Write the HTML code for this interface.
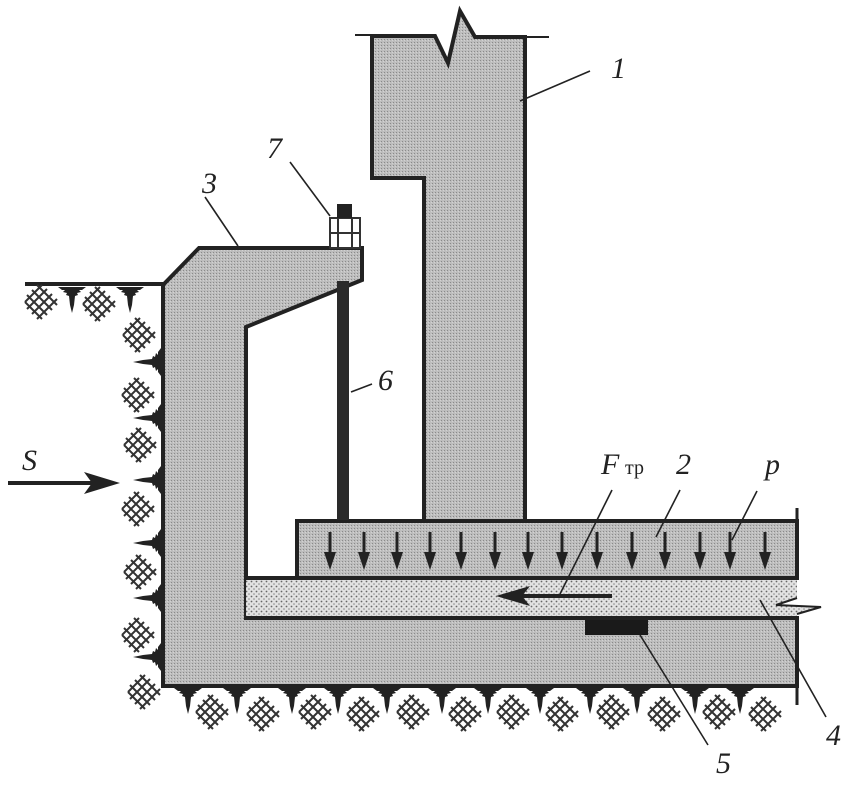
<!DOCTYPE html>
<html><head><meta charset="utf-8"><style>html,body{margin:0;padding:0;background:#fff}svg{display:block}</style></head>
<body>
<svg width="862" height="788" viewBox="0 0 862 788" xmlns="http://www.w3.org/2000/svg">
<defs>
<pattern id="g" width="3" height="3" patternUnits="userSpaceOnUse">
<rect width="3" height="3" fill="#bdbdbd"/><rect width="1" height="1" fill="#8a8a8a"/><rect x="2" y="1" width="1" height="1" fill="#d2d2d2"/>
</pattern>
<pattern id="d" width="5" height="5" patternUnits="userSpaceOnUse">
<rect width="5" height="5" fill="#e2e2e2"/><circle cx="1.5" cy="1.5" r="0.9" fill="#666"/><circle cx="4" cy="4" r="0.8" fill="#888"/>
</pattern>
<g id="h" stroke="#333" stroke-width="2" fill="none">
<path d="M-15,-7 L5,13 M-10,-12 L10,8 M-5,-17 L15,3 M-17,0 L0,17"/>
<path d="M-15,7 L5,-13 M-10,12 L10,-8 M-5,17 L15,-3 M-17,0 L0,-17"/>
</g>
<g id="sd" fill="#222">
<path d="M-14,0 L14,0 L10,3 L7,3 L9,5 L5,6 L6,8 L3,9 L2,18 L0,26 L-2,18 L-3,9 L-6,8 L-5,6 L-9,5 L-7,3 L-10,3 Z"/>
</g>
<g id="sl" fill="#222">
<path d="M0,-14 L0,14 L-3,10 L-3,7 L-5,9 L-6,5 L-8,6 L-9,3 L-18,2 L-28,0 L-18,-2 L-9,-3 L-8,-6 L-6,-5 L-5,-9 L-3,-7 L-3,-10 Z"/>
</g>
</defs>

<line x1="25" y1="284" x2="165" y2="284" stroke="#222" stroke-width="4"/>

<use href="#h" x="42" y="302"/>
<use href="#sd" x="72" y="287"/>
<use href="#h" x="100" y="304"/>
<use href="#sd" x="130" y="287"/>
<use href="#h" x="140" y="335"/>
<use href="#sl" x="161" y="362"/>
<use href="#h" x="139" y="395"/>
<use href="#sl" x="161" y="418"/>
<use href="#h" x="141" y="445"/>
<use href="#sl" x="161" y="480"/>
<use href="#h" x="139" y="509"/>
<use href="#sl" x="161" y="543"/>
<use href="#h" x="141" y="572"/>
<use href="#sl" x="161" y="598"/>
<use href="#h" x="139" y="635"/>
<use href="#sl" x="161" y="657"/>
<use href="#h" x="145" y="692"/>
<use href="#sd" x="188" y="688"/><use href="#h" x="213" y="712"/>
<use href="#sd" x="237" y="688"/><use href="#h" x="264" y="714"/>
<use href="#sd" x="292" y="688"/><use href="#h" x="316" y="712"/>
<use href="#sd" x="338" y="688"/><use href="#h" x="364" y="714"/>
<use href="#sd" x="387" y="688"/><use href="#h" x="414" y="712"/>
<use href="#sd" x="442" y="688"/><use href="#h" x="466" y="714"/>
<use href="#sd" x="488" y="688"/><use href="#h" x="514" y="712"/>
<use href="#sd" x="540" y="688"/><use href="#h" x="563" y="714"/>
<use href="#sd" x="590" y="688"/><use href="#h" x="614" y="712"/>
<use href="#sd" x="637" y="688"/><use href="#h" x="665" y="714"/>
<use href="#sd" x="695" y="688"/><use href="#h" x="720" y="712"/>
<use href="#sd" x="740" y="688"/><use href="#h" x="766" y="714"/>

<path d="M163,285 L199,248 L362,248 L362,280 L246,327 L246,618 L797,618 L797,686 L163,686 Z" fill="url(#g)" stroke="#222" stroke-width="4"/>
<line x1="797" y1="618" x2="797" y2="705" stroke="#222" stroke-width="3"/>

<path d="M246,578 L797,578 L797,598 L776,605 L821,607 L797,614 L797,618 L246,618 Z" fill="url(#d)"/>
<line x1="246" y1="578" x2="797" y2="578" stroke="#222" stroke-width="4"/>
<line x1="246" y1="618" x2="797" y2="618" stroke="#222" stroke-width="4"/>
<path d="M797,598 L776,605 L821,607 L797,614" fill="none" stroke="#222" stroke-width="2"/>

<rect x="585" y="620" width="63" height="15" fill="#1a1a1a"/>

<rect x="297" y="521" width="500" height="57" fill="url(#g)" stroke="#222" stroke-width="4"/>
<line x1="797" y1="508" x2="797" y2="580" stroke="#222" stroke-width="3"/>
<g stroke="#222" stroke-width="3" fill="#222">
<g id="ar"><line x1="330" y1="532" x2="330" y2="558"/><path d="M324,552 L336,552 L330,570 Z" stroke="none"/></g>
<use href="#ar" x="34"/><use href="#ar" x="67"/><use href="#ar" x="100"/><use href="#ar" x="131"/>
<use href="#ar" x="165"/><use href="#ar" x="198"/><use href="#ar" x="232"/><use href="#ar" x="267"/>
<use href="#ar" x="302"/><use href="#ar" x="335"/><use href="#ar" x="370"/><use href="#ar" x="400"/><use href="#ar" x="435"/>
</g>

<path d="M372,36 L435,36 L448,63 L460,11 L475,37 L525,37 L525,521 L424,521 L424,178 L372,178 Z" fill="url(#g)" stroke="#222" stroke-width="4"/>
<line x1="355" y1="35" x2="372" y2="35" stroke="#222" stroke-width="2"/>
<line x1="525" y1="37" x2="549" y2="37" stroke="#222" stroke-width="2"/>

<rect x="337" y="281" width="12" height="239" fill="#2a2a2a"/>
<rect x="330" y="218" width="30" height="30" fill="#fff" stroke="#333" stroke-width="2"/>
<line x1="338" y1="218" x2="338" y2="248" stroke="#333" stroke-width="2"/>
<line x1="352" y1="218" x2="352" y2="248" stroke="#333" stroke-width="2"/>
<line x1="330" y1="233" x2="360" y2="233" stroke="#333" stroke-width="2"/>
<rect x="337" y="204" width="15" height="14" fill="#222"/>

<line x1="8" y1="483" x2="104" y2="483" stroke="#222" stroke-width="4"/>
<path d="M84,472 L120,483 L84,494 L92,483 Z" fill="#222"/>
<line x1="520" y1="596" x2="612" y2="596" stroke="#222" stroke-width="4"/>
<path d="M530,586 L496,596 L530,606 L522,596 Z" fill="#222"/>

<g stroke="#222" stroke-width="1.6" fill="none">
<line x1="520" y1="101" x2="590" y2="71"/>
<line x1="205" y1="197" x2="238" y2="246"/>
<line x1="290" y1="162" x2="330" y2="216"/>
<line x1="351" y1="392" x2="372" y2="384"/>
<line x1="612" y1="490" x2="560" y2="594"/>
<line x1="680" y1="490" x2="656" y2="537"/>
<line x1="757" y1="491" x2="732" y2="540"/>
<line x1="760" y1="600" x2="826" y2="717"/>
<line x1="640" y1="635" x2="708" y2="745"/>
</g>

<g font-family="'Liberation Serif', serif" font-style="italic" font-size="30" fill="#222">
<text x="611" y="78">1</text>
<text x="202" y="193">3</text>
<text x="267" y="158">7</text>
<text x="378" y="390">6</text>
<text x="22" y="470">S</text>
<text x="601" y="474">F</text>
<text x="676" y="474">2</text>
<text x="765" y="474">p</text>
<text x="826" y="745">4</text>
<text x="716" y="773">5</text>
</g>
<text x="625" y="474" font-family="'Liberation Serif', serif" font-size="20" fill="#222">тр</text>
</svg>
</body></html>
